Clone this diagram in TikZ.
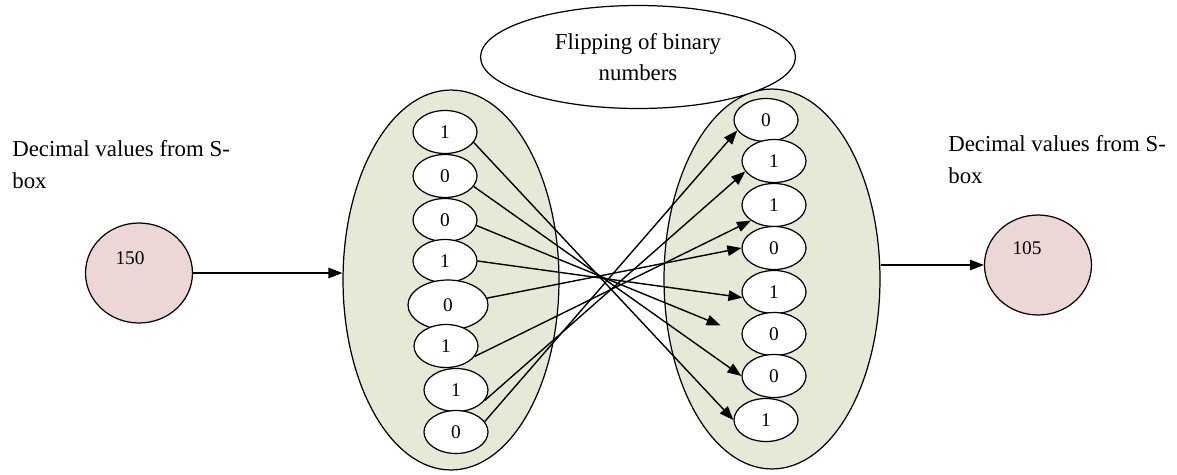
\documentclass[tikz,border=0pt]{standalone}
\usepackage{fontspec}
\setmainfont{Liberation Serif}
\usepackage{tikz}
\usetikzlibrary{arrows.meta, shapes.geometric}
\definecolor{poolgreen}{HTML}{E4EAD6}
\definecolor{boxpink}{HTML}{EDD6D6}

\begin{document}
\begin{tikzpicture}[x=0.02cm, y=-0.02cm,
                    bit/.style={ellipse, draw, fill=white, inner sep=0pt, line width=0.7pt,
                                minimum width=1.28cm, minimum height=0.86cm, font=\fontsize{11}{13}\selectfont},
                    pool/.style={ellipse, draw, fill=poolgreen, line width=0.7pt, minimum width=4.32cm, minimum height=7.6cm},
                    sbox/.style={ellipse, draw, fill=boxpink, line width=0.7pt, minimum width=2.14cm, minimum height=2cm},
                    note/.style={align=left, inner sep=0pt, anchor=north west, font=\fontsize{13}{18}\selectfont},
                    flip/.style={-{Triangle[length=2.8mm, width=2.1mm]}, line width=0.8pt}]

    \useasboundingbox (0,0) rectangle (1177,474);

    \node[pool] (pL) at (451,280) {};
    \node[pool] (pR) at (772,279) {};

    \node[ellipse, draw, fill=white, line width=0.7pt, minimum width=6.3cm, minimum height=2.06cm,
          align=center, font=\fontsize{13}{18}\selectfont] (title) at (638,57) {Flipping of binary\\numbers};

    \node[note] (inL) at (12,140) {Decimal values from S-\\box};
    \node[note] (outR) at (948,135) {Decimal values from S-\\box};

    \node[sbox, label={[xshift=-0.18cm, yshift=0.3cm, font=\fontsize{11}{13}\selectfont]center:150}] (sL) at (139,273) {};
    \node[sbox, label={[xshift=-0.22cm, yshift=0.34cm, font=\fontsize{11}{13}\selectfont]center:105}] (sR) at (1038,265) {};

    \node[bit] (l1) at (445,132) {1};
    \node[bit] (l2) at (445,176) {0};
    \node[bit] (l3) at (445,220) {0};
    \node[bit] (l4) at (445,261) {1};
    \node[bit, minimum width=1.6cm, minimum height=1cm] (l5) at (448,305) {0};
    \node[bit] (l6) at (446,346) {1};
    \node[bit] (l7) at (456,390) {1};
    \node[bit] (l8) at (456,432) {0};

    \node[bit] (r1) at (766,120) {0};
    \node[bit] (r2) at (774,161) {1};
    \node[bit] (r3) at (774,205) {1};
    \node[bit] (r4) at (774,248) {0};
    \node[bit] (r5) at (774,292) {1};
    \node[bit] (r6) at (774,334) {0};
    \node[bit] (r7) at (774,376) {0};
    \node[bit] (r8) at (766,420) {1};

    \draw[flip] (sL.east) -- (sL.east -| pL.west);
    \draw[flip] (pR.east |- sR.west) -- (sR.west);

    \draw[flip] (l1.-20) -- (r8.west);
    \draw[flip] (l2.-20) -- (r7.west);
    \draw[flip, shorten >=0.45cm] (l3.-10) -- (r6.west);
    \draw[flip] (l4.east) -- (r5.190);
    \draw[flip] (l5.10) -- (r4.west);
    \draw[flip] (l6.-20) -- (r3.south west);
    \draw[flip] (l7.-20) -- (r2.200);
    \draw[flip] (l8.20) -- (r1.200);
\end{tikzpicture}
\end{document}
